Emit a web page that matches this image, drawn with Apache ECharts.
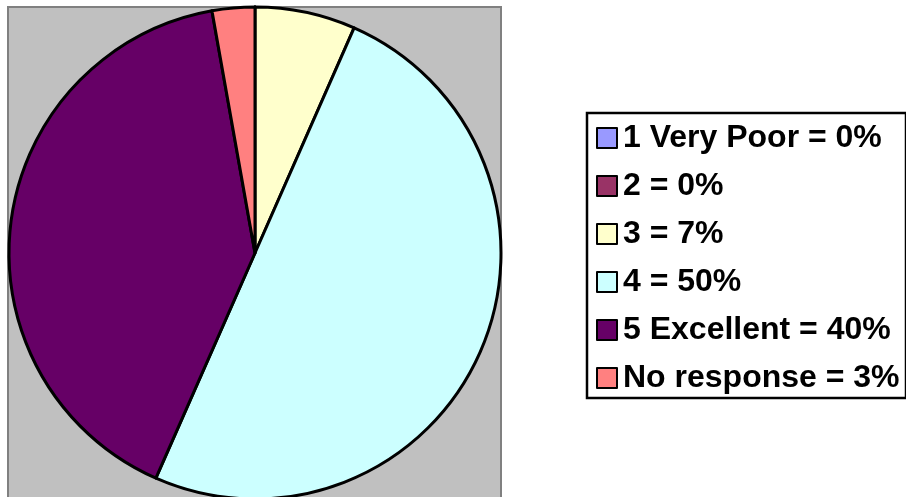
<!DOCTYPE html>
<html>
<head>
<meta charset="utf-8">
<script src="https://cdn.jsdelivr.net/npm/echarts@6/dist/echarts.min.js"></script>
<style>
html,body{margin:0;padding:0;background:#fff;}
#c{width:906px;height:497px;}
</style>
</head>
<body>
<div id="c"></div>
<script>
var categories = ['1 Very Poor', '2', '3', '4', '5 Excellent', 'No response'];
var legendPercents = [0, 0, 7, 50, 40, 3];
var values = [0, 0, 6.6, 50.0, 40.6, 2.8];
var colors = ['#9999FF', '#993366', '#FFFFCC', '#CCFFFF', '#660066', '#FF8080'];

var names = categories.map(function (c, i) { return c + ' = ' + legendPercents[i] + '%'; });
var data = values.map(function (v, i) {
  return { name: names[i], value: v, itemStyle: { color: colors[i] } };
});

var chart = echarts.init(document.getElementById('c'), null, { renderer: 'canvas' });
chart.setOption({
  animation: false,
  graphic: [
    { type: 'rect', z: -10, shape: { x: 8, y: 7, width: 493, height: 500 },
      style: { fill: '#C0C0C0', stroke: '#808080', lineWidth: 2 } },
    { type: 'rect', z: -10, shape: { x: 587, y: 113, width: 319, height: 285 },
      style: { fill: '#FFFFFF', stroke: '#000000', lineWidth: 2.5 } }
  ],
  legend: {
    orient: 'vertical',
    left: 591,
    top: 117,
    padding: [5, 5, 5, 5],
    itemWidth: 20,
    itemHeight: 20,
    itemGap: 16,
    icon: 'rect',
    data: names,
    selectedMode: false,
    itemStyle: { borderColor: '#000', borderWidth: 2 },
    textStyle: {
      fontFamily: '"Liberation Sans", Arial, sans-serif',
      fontWeight: 'bold',
      fontSize: 32,
      lineHeight: 32,
      color: '#000',
      padding: [0, 0, 0, 1]
    }
  },
  series: [{
    type: 'pie',
    center: [255, 253],
    radius: 246,
    startAngle: 90,
    clockwise: true,
    silent: true,
    label: { show: false },
    labelLine: { show: false },
    itemStyle: { borderColor: '#000', borderWidth: 3 },
    emphasis: { disabled: true },
    data: data
  }]
});
</script>
</body>
</html>
